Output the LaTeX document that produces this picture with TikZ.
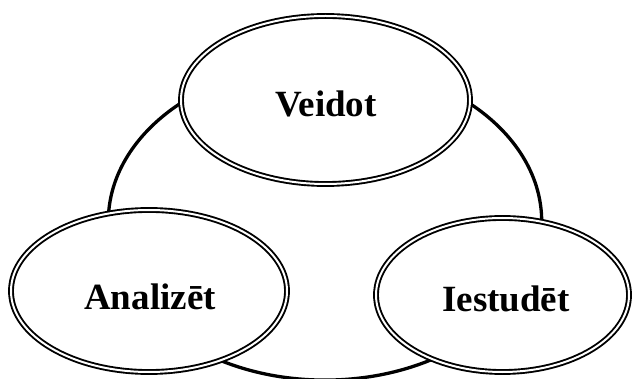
\documentclass[tikz,border=0pt]{standalone}
\usepackage{fontspec}
\setmainfont{Liberation Serif}
\usetikzlibrary{shapes.geometric}
\begin{document}
\begin{tikzpicture}[x=1pt,y=-1pt,
  stage/.style={ellipse, draw, double, fill=white, line width=1.9pt,
    double distance=2pt, inner sep=0pt},
  stagetext/.style={anchor=base, inner sep=0pt,
    font=\fontsize{37}{40}\selectfont\bfseries},
  cycleline/.style={line width=3.3pt}]
  \useasboundingbox (0,0) rectangle (632,379);
  % ring joining the three stages
  \draw[cycleline] (325,221.5) ellipse [x radius=216.7, y radius=158.6];
  % stages
  \node[stage, minimum width=289pt, minimum height=168pt] (vei) at (325.5,100) {};
  \node[stage, minimum width=276pt, minimum height=162pt] (ana) at (149,291) {};
  \node[stage, minimum width=253pt, minimum height=154pt] (ies) at (502.5,295) {};
  % labels
  \node[stagetext] (veit) at (326,117) {Veidot};
  \node[stagetext] (anat) at (150,310) {Analizēt};
  \node[stagetext] (iest) at (506,312) {Iestudēt};
\end{tikzpicture}
\end{document}
